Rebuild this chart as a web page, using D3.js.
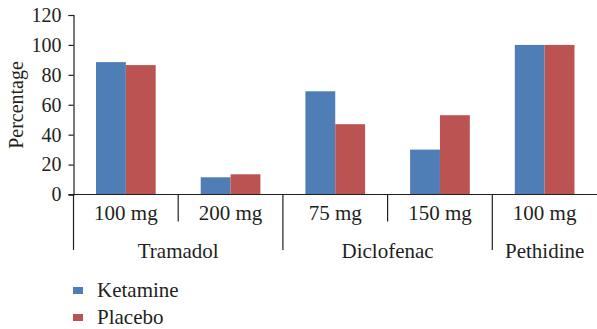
<!DOCTYPE html>
<html><head><meta charset="utf-8">
<script src="https://cdn.jsdelivr.net/npm/d3@7"></script>
<style>body{margin:0;background:#fff}svg{display:block}</style>
</head><body><svg id="c" width="597" height="329"></svg>
<script>
const doses = ["100 mg","200 mg","75 mg","150 mg","100 mg"];
const drugs = ["Tramadol","Diclofenac","Pethidine"];
const drugSpan = [2,2,1];
const seriesNames = ["Ketamine","Placebo"];
const ketamine = [88.5,11.5,69,30,100];
const placebo = [86.5,13.5,47,53,100];
const yTicks = [0,20,40,60,80,100,120];
const colors = ["#4f7db5","#ba5351"];

const FF = "'Liberation Serif', 'Times New Roman', serif";
const TC = "#231f20";
const svg = d3.select("#c");
const left = 73.5, right = 597, y0 = 194.5, yTop = 15;
const idx = doses.map((d,i)=>i);
const x = d3.scaleBand().domain(idx).range([left,right]).padding(0);
const bw = x.bandwidth();
const xs = d3.scaleBand().domain(seriesNames).range([bw*0.215, bw*0.785]).padding(0);
const y = d3.scaleLinear().domain([0,120]).range([y0,yTop]);
const vals = [ketamine, placebo];

function txt(sel,size){ return sel.style("font-family",FF).style("font-size",size+"px").style("fill",TC); }

// bars
seriesNames.forEach((s,si)=>{
  svg.append("g").selectAll("rect").data(vals[si]).join("rect")
    .attr("x",(d,i)=>x(i)+xs(s)).attr("width",xs.bandwidth())
    .attr("y",d=>y(d)).attr("height",d=>y(0)-y(d)).attr("fill",colors[si]);
});

// y axis
const ya = svg.append("g").attr("transform",`translate(${left},0)`)
  .call(d3.axisLeft(y).tickValues(yTicks).tickSize(5).tickPadding(7));
ya.attr("font-family",null).attr("font-size",null);
ya.select(".domain").attr("stroke",TC).attr("stroke-width",1.2);
ya.selectAll(".tick line").attr("stroke",TC).attr("stroke-width",1.2);
txt(ya.selectAll(".tick text"),20);

// x axis line
svg.append("line").attr("x1",left-5).attr("x2",right).attr("y1",y0).attr("y2",y0).attr("stroke",TC).attr("stroke-width",1.2);

// sub labels
txt(svg.append("g").selectAll("text").data(doses).join("text")
  .attr("x",(d,i)=>x(i)+bw/2).attr("y",220).attr("text-anchor","middle").text(d=>d),21);

// separators
let start = 0;
const groupBounds = [0];
drugSpan.forEach(n=>{start+=n;groupBounds.push(start);});
idx.forEach(i=>{
  const isGroup = groupBounds.includes(i);
  const xx = x(i);
  svg.append("line").attr("x1",xx).attr("x2",xx).attr("y1",y0).attr("y2",isGroup?250:221.5)
    .attr("stroke",TC).attr("stroke-width",1.2);
});

// group labels
drugs.forEach((g,gi)=>{
  const a = x(groupBounds[gi]);
  const b = groupBounds[gi+1] < idx.length ? x(groupBounds[gi+1]) : right;
  txt(svg.append("text").attr("x",(a+b)/2).attr("y",258).attr("text-anchor","middle").text(g),21);
});

// y label
txt(svg.append("text").attr("transform","translate(23,105) rotate(-90)").attr("text-anchor","middle")
  .text("Percentage"),20);

// legend
const lg = svg.append("g").selectAll("g").data(seriesNames).join("g")
  .attr("transform",(d,i)=>`translate(73,${287+i*27})`);
lg.append("rect").attr("width",10).attr("height",7).attr("fill",(d,i)=>colors[i]);
txt(lg.append("text").attr("x",24).attr("y",10).text(d=>d),21);
</script></body></html>
